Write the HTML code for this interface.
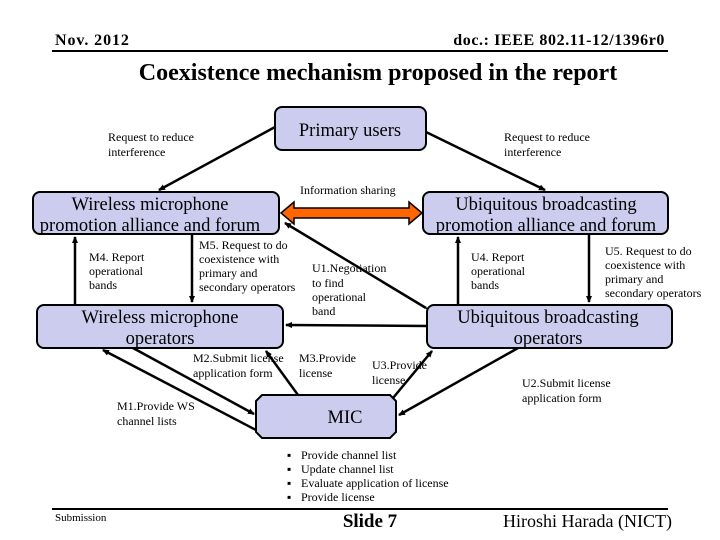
<!DOCTYPE html>
<html><head><style>
body{margin:0;width:720px;height:540px;background:#fff;overflow:hidden;font-family:"Liberation Serif",serif}
svg{position:absolute;left:0;top:0}
text{font-family:"Liberation Serif",serif}
</style></head><body>
<svg width="720" height="540" viewBox="0 0 720 540">
<defs>
<marker id="a" markerWidth="8" markerHeight="8" refX="6" refY="3" orient="auto" markerUnits="userSpaceOnUse"><path d="M0,0 L7,3 L0,6z" fill="#000"/></marker>
</defs>
<text x="55" y="45" font-size="16" font-weight="bold" letter-spacing="0.9">Nov. 2012</text>
<text x="665" y="45" font-size="16" font-weight="bold" text-anchor="end" letter-spacing="0.6">doc.: IEEE 802.11-12/1396r0</text>
<line x1="52" y1="51" x2="668" y2="51" stroke="#000" stroke-width="2"/>
<text x="378" y="80" font-size="24" font-weight="bold" text-anchor="middle">Coexistence mechanism proposed in the report</text>

<g stroke="#000" stroke-width="2.5" fill="none">
<line x1="275" y1="127" x2="159" y2="190" marker-end="url(#a)"/>
<line x1="426" y1="132" x2="545" y2="190" marker-end="url(#a)"/>
<line x1="75" y1="305" x2="75" y2="237" marker-end="url(#a)"/>
<line x1="192" y1="234" x2="192" y2="302" marker-end="url(#a)"/>
<line x1="458" y1="305" x2="458" y2="237" marker-end="url(#a)"/>
<line x1="589" y1="234" x2="589" y2="302" marker-end="url(#a)"/>
<line x1="426" y1="308" x2="285" y2="223" marker-end="url(#a)" marker-start="url(#a)"/>
<line x1="427" y1="326" x2="286" y2="325" marker-end="url(#a)" marker-start="url(#a)"/>
<line x1="256" y1="430" x2="103" y2="350" marker-end="url(#a)"/>
<line x1="133" y1="348" x2="254" y2="414" marker-end="url(#a)"/>
<line x1="298" y1="395" x2="266" y2="351" marker-end="url(#a)"/>
<line x1="393" y1="398" x2="432" y2="351" marker-end="url(#a)"/>
<line x1="518" y1="348" x2="399" y2="415" marker-end="url(#a)"/>
</g>
<path d="M281,213 L294,202 L294,208 L409,208 L409,202 L422,213 L409,224 L409,218 L294,218 L294,224z" fill="#ff6600" stroke="#000" stroke-width="1.5"/>

<g fill="#ccccee" stroke="#000" stroke-width="2">
<rect x="275" y="107" width="151" height="43" rx="7"/>
<rect x="33" y="192" width="246" height="42" rx="7"/>
<rect x="423" y="192" width="245" height="42" rx="7"/>
<rect x="37" y="305" width="246" height="43" rx="7"/>
<rect x="427" y="305" width="245" height="43" rx="7"/>
<path d="M262,395 L390,395 L396,401 L396,432 L390,438 L262,438 L256,432 L256,401z"/>
</g>
<g font-size="18.5" text-anchor="middle">
<text x="350" y="136">Primary users</text>
<text x="150" y="210">Wireless microphone</text>
<text x="150" y="231">promotion alliance and forum</text>
<text x="546" y="210">Ubiquitous broadcasting</text>
<text x="546" y="231">promotion alliance and forum</text>
<text x="160" y="323">Wireless microphone</text>
<text x="160" y="344">operators</text>
<text x="548" y="323">Ubiquitous broadcasting</text>
<text x="548" y="344">operators</text>
<text x="345" y="423">MIC</text>
</g>
<g font-size="12">
<text x="108" y="141">Request to reduce</text><text x="108" y="156">interference</text>
<text x="504" y="141">Request to reduce</text><text x="504" y="156">interference</text>
<text x="300" y="194">Information sharing</text>
<text x="89" y="261">M4. Report</text><text x="89" y="275">operational</text><text x="89" y="289">bands</text>
<text x="199" y="249">M5. Request to do</text><text x="199" y="263">coexistence with</text><text x="199" y="277">primary and</text><text x="199" y="291">secondary operators</text>
<text x="312" y="272">U1.Negotiation</text><text x="312" y="287">to find</text><text x="312" y="301">operational</text><text x="312" y="315">band</text>
<text x="471" y="261">U4. Report</text><text x="471" y="275">operational</text><text x="471" y="289">bands</text>
<text x="605" y="255">U5. Request to do</text><text x="605" y="269">coexistence with</text><text x="605" y="283">primary and</text><text x="605" y="297">secondary operators</text>
<text x="193" y="362">M2.Submit license</text><text x="193" y="377">application form</text>
<text x="299" y="362">M3.Provide</text><text x="299" y="377">license</text>
<text x="372" y="369">U3.Provide</text><text x="372" y="384">license</text>
<text x="522" y="387">U2.Submit license</text><text x="522" y="402">application form</text>
<text x="117" y="410">M1.Provide WS</text><text x="117" y="425">channel lists</text>
<text x="287" y="459">▪</text><text x="301" y="459">Provide channel list</text>
<text x="287" y="473">▪</text><text x="301" y="473">Update channel list</text>
<text x="287" y="487">▪</text><text x="301" y="487">Evaluate application of license</text>
<text x="287" y="501">▪</text><text x="301" y="501">Provide license</text>
</g>
<line x1="52" y1="509" x2="668" y2="509" stroke="#000" stroke-width="2"/>
<text x="55" y="521" font-size="11">Submission</text>
<text x="370" y="527" font-size="19" font-weight="bold" text-anchor="middle">Slide 7</text>
<text x="672" y="527" font-size="18" text-anchor="end">Hiroshi Harada (NICT)</text>
</svg>
</body></html>
